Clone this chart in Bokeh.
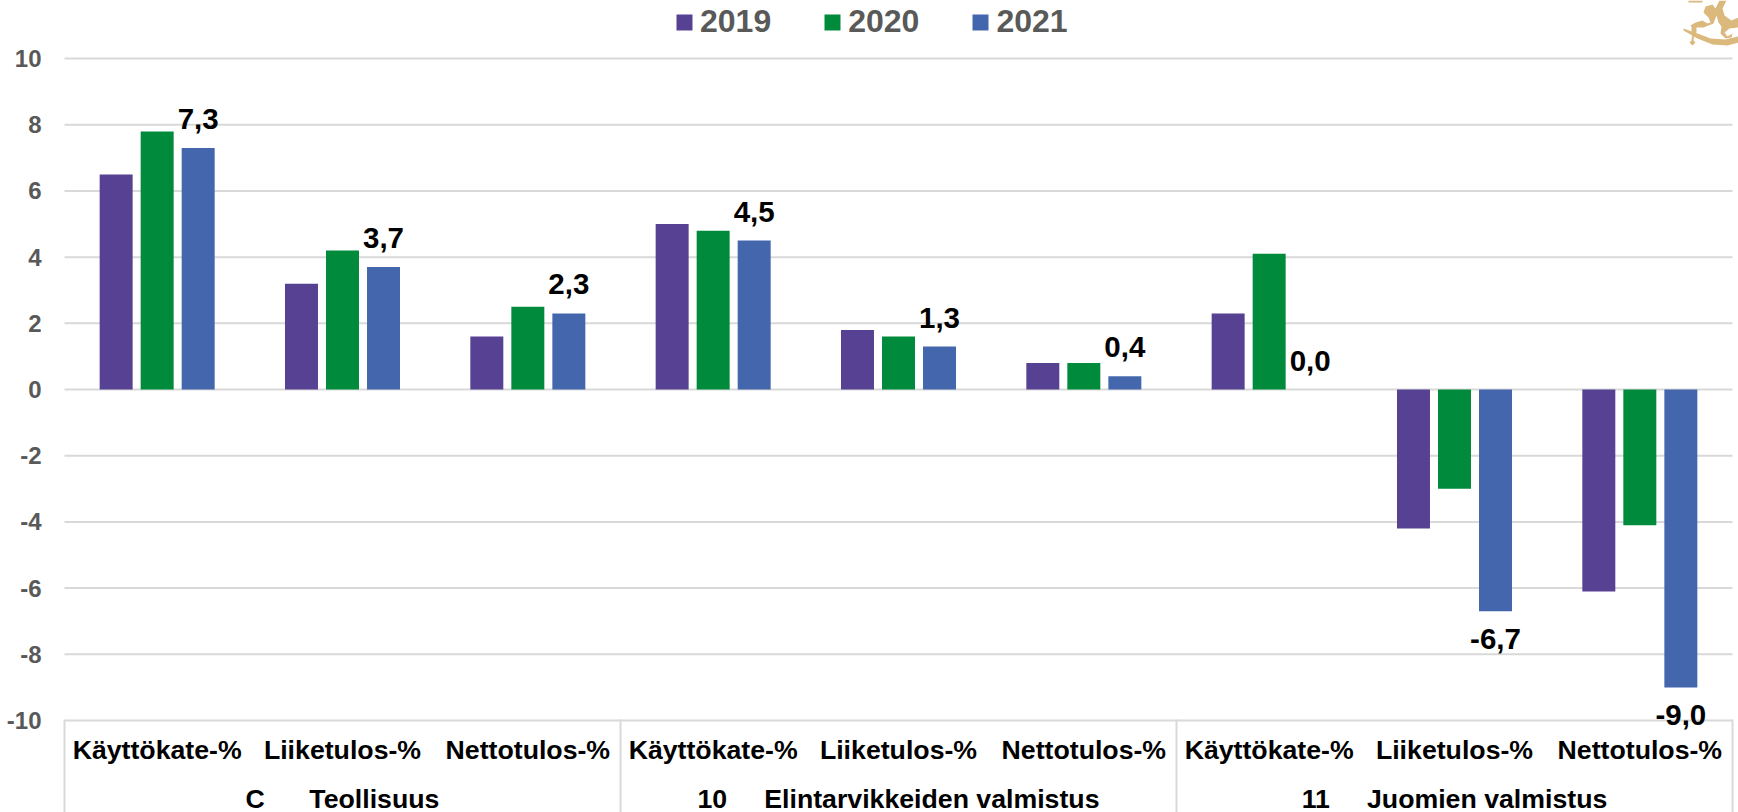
from bokeh.plotting import figure
from bokeh.models import (ColumnDataSource, FactorRange, LabelSet, Legend, LegendItem,
                          PolyAnnotation, CategoricalAxis, Range1d, FixedTicker)
from bokeh.core.properties import value
from bokeh.transform import dodge
from bokeh.embed import file_html
from bokeh.resources import INLINE

NB = "\u00a0"
groups = ["C" + NB*6 + "Teollisuus", "10" + NB*5 + "Elintarvikkeiden valmistus", "11" + NB*5 + "Juomien valmistus"]
measures = ["Käyttökate-%", "Liiketulos-%", "Nettotulos-%"]
v2019 = [6.5, 3.2, 1.6, 5.0, 1.8, 0.8, 2.3, -4.2, -6.1]
v2020 = [7.8, 4.2, 2.5, 4.8, 1.6, 0.8, 4.1, -3.0, -4.1]
v2021 = [7.3, 3.7, 2.3, 4.5, 1.3, 0.4, 0.0, -6.7, -9.0]
labels_2021 = ["7,3", "3,7", "2,3", "4,5", "1,3", "0,4", "0,0", "-6,7", "-9,0"]
colors = {"2019": "#574193", "2020": "#008b3c", "2021": "#4466ad"}
y_ticks = [-10, -8, -6, -4, -2, 0, 2, 4, 6, 8, 10]
edge_factors = [" ", "  ", "   ", "    "]

factors = [(g, m) for g in groups for m in measures]
src = ColumnDataSource(dict(x=factors, v2019=v2019, v2020=v2020, v2021=v2021, text=labels_2021,
                            off=[29 if v >= 0 else -28 for v in v2021]))

PAD_PX = 6
x_range = FactorRange(*factors, factor_padding=0, group_padding=0,
                      range_padding=PAD_PX/185.33, range_padding_units="absolute")
group_range = FactorRange(*groups, factor_padding=0,
                          range_padding=PAD_PX/556, range_padding_units="absolute")
edge_range = FactorRange(*edge_factors, factor_padding=0,
                         range_padding=-0.5 + PAD_PX/556, range_padding_units="absolute")
GRID = "#d9d9d9"
PX = 33.05
p = figure(width=1738, height=816, x_range=x_range, y_range=Range1d(-10 - 13/PX, 10 + 58/PX),
           output_backend="svg", toolbar_location=None, x_axis_location=None,
           min_border_left=58, min_border_right=0, min_border_top=0, min_border_bottom=0,
           background_fill_color="white", border_fill_color="white")
p.outline_line_color = None
p.extra_x_ranges = {"groups": group_range, "edges": edge_range}

ax = CategoricalAxis()
ax.axis_line_color = None
ax.major_tick_line_color = None
ax.major_label_text_font = "Liberation Sans"
ax.major_label_text_font_style = "bold"
ax.major_label_text_font_size = "26.7px"
ax.major_label_text_color = "black"
ax.major_label_standoff = -5
ax.group_text_font_size = "0px"
ax.group_text_color = None
ax.separator_line_color = None
p.add_layout(ax, "below")

ax2 = CategoricalAxis(x_range_name="groups")
ax2.axis_line_color = None
ax2.major_tick_line_color = None
ax2.major_label_text_font = "Liberation Sans"
ax2.major_label_text_font_style = "bold"
ax2.major_label_text_font_size = "26.7px"
ax2.major_label_text_color = "black"
ax2.major_label_standoff = 10
p.add_layout(ax2, "below")

ax3 = CategoricalAxis(x_range_name="edges")
ax3.axis_line_color = None
ax3.major_tick_in = 97
ax3.major_tick_out = 0
ax3.major_tick_line_color = GRID
ax3.major_tick_line_width = 2
ax3.major_label_text_font_size = "0px"
ax3.major_label_standoff = 0
p.add_layout(ax3, "below")

p.xgrid.visible = False
p.ygrid.visible = False
p.segment(x0=[(groups[0], measures[0], -0.5)] * len(y_ticks), x1=[(groups[-1], measures[-1], 0.5)] * len(y_ticks),
          y0=y_ticks, y1=y_ticks, line_color=GRID, line_width=2, level="underlay")
p.yaxis.ticker = FixedTicker(ticks=y_ticks)
p.yaxis.major_label_overrides = {t: str(t) for t in y_ticks}
p.yaxis.axis_line_color = None
p.yaxis.major_tick_line_color = None
p.yaxis.minor_tick_line_color = None
p.yaxis.major_label_text_font = "Liberation Sans"
p.yaxis.major_label_text_font_style = "bold"
p.yaxis.major_label_text_font_size = "24px"
p.yaxis.major_label_text_color = "#595959"
p.yaxis.major_label_standoff = 11

STEP, W = 0.2213, 0.178
rs = []
for key, off in (("2019", -STEP), ("2020", 0), ("2021", STEP)):
    r = p.vbar(x=dodge("x", off, range=x_range), top="v" + key, bottom=0, width=W, source=src,
               fill_color=colors[key], line_color=None)
    rs.append(LegendItem(label=key, renderers=[r]))

p.add_layout(LabelSet(x=dodge("x", STEP, range=x_range), y="v2021", text="text", y_offset="off",
                      source=src, text_align="center", text_baseline="middle",
                      text_font=value("Liberation Sans"), text_font_style="bold", text_font_size="29.5px",
                      text_color="black"))

leg = Legend(items=rs, orientation="horizontal", location=(616, 693), border_line_color=None,
             background_fill_alpha=0, label_text_font="Liberation Sans", label_text_font_style="bold",
             label_text_font_size="32px", label_text_color="#595959", glyph_width=20, glyph_height=20,
             spacing=51, label_standoff=6, padding=0, margin=0)
p.add_layout(leg, "center")

GOLD = "#dbb87c"
crest = [
    [(1683,28),(1697,33),(1710,38),(1725,39),(1738,36),(1738,42),(1727,45),(1712,44),(1697,38),(1683,30)],
    [(1690,25),(1695,22),(1702,20),(1707,23),(1710,22),(1708,17),(1703,12),(1705,6),(1712,4),(1715,8),(1719,0),(1726,0),
     (1722,8),(1724,15),(1731,20),(1738,17),(1738,27),(1729,28),(1724,32),(1727,36),(1732,33),(1731,37),(1725,38),(1720,33),
     (1721,26),(1718,22),(1716,15),(1713,23),(1703,27),(1697,27),(1692,28)],
    [(1691,27),(1696,27),(1696,32),(1694,33),(1693,40),(1695,42),(1692,45),(1689,42),(1691,40),(1692,32),(1691,31)],
    [(1688,0),(1702,0),(1702,2),(1688,2)],
]
for poly in crest:
    p.add_layout(PolyAnnotation(xs=[a for a, _ in poly], ys=[b for _, b in poly],
                                xs_units="canvas", ys_units="canvas", fill_color=GOLD, fill_alpha=1,
                                line_color=None))

open("out.html", "w").write(file_html(p, INLINE))
